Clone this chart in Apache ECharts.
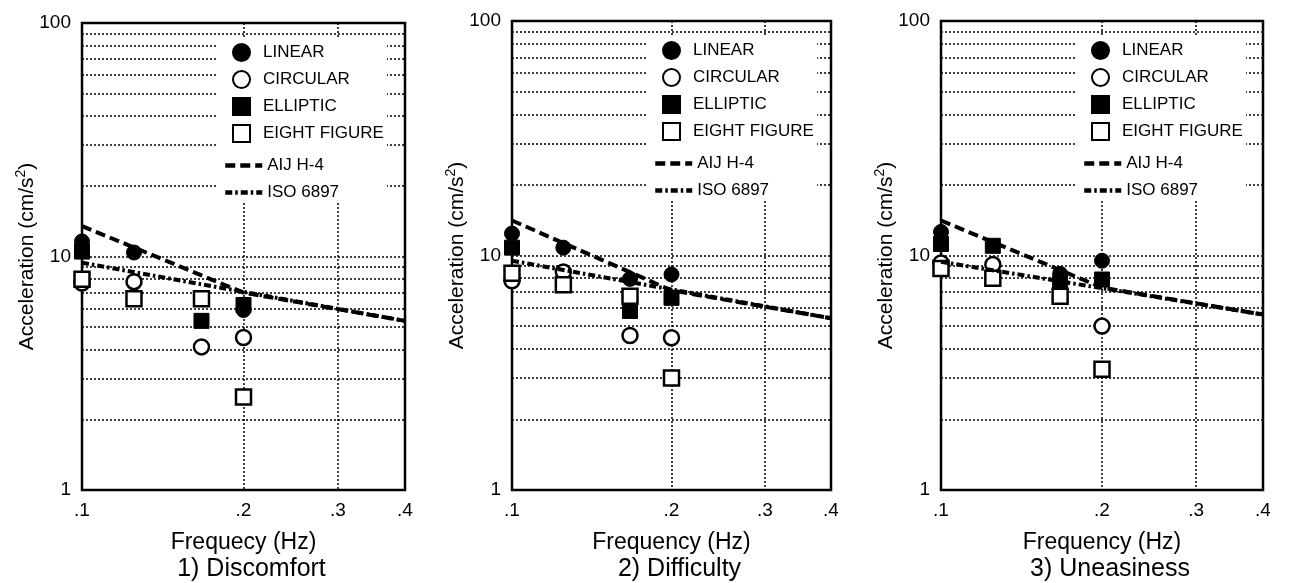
<!DOCTYPE html>
<html>
<head>
<meta charset="utf-8">
<script src="https://cdn.jsdelivr.net/npm/echarts@6/dist/echarts.min.js"></script>
<style>
  html, body { margin: 0; padding: 0; background: #fff; }
  #chart { width: 1289px; height: 583px; }
</style>
</head>
<body>
<div id="chart"></div>
<script>
// ---------------- data ----------------
const frequencies = [0.1, 0.125, 0.167, 0.2];           // Hz
const xTickValues = [0.1, 0.2, 0.3, 0.4];
const yLabelValues = [1, 10, 100];
const yGridValues = [1, 2, 3, 4, 5, 6, 7, 8, 9, 10, 20, 30, 40, 50, 60, 70, 80, 90, 100];

// 1) Discomfort
const discomfortLinear   = [11.6, 10.4, null, 5.9];
const discomfortCircular = [7.7, 7.8, 4.1, 4.5];
const discomfortElliptic = [10.5, null, 5.3, 6.2];
const discomfortEight    = [8.0, 6.6, 6.6, 2.5];
// 2) Difficulty
const difficultyLinear   = [12.4, 10.8, 7.95, 8.3];
const difficultyCircular = [7.8, 8.5, 4.56, 4.46];
const difficultyElliptic = [10.8, null, 5.8, 6.6];
const difficultyEight    = [8.4, 7.5, 6.7, 3.0];
// 3) Uneasiness
const uneasinessLinear   = [12.6, null, 8.35, 9.5];
const uneasinessCircular = [9.3, 9.15, null, 5.0];
const uneasinessElliptic = [11.2, 11.0, 7.6, 7.9];
const uneasinessEight    = [8.8, 8.0, 6.7, 3.27];

// guideline curves
const aijFreqs = [0.1, 0.2, 0.4];
const isoFreqs = [0.1, 0.4];
const discomfortAIJ = [13.5, 7.0, 5.3];
const discomfortISO = [9.4, 5.3];
const difficultyAIJ = [14.1, 7.1, 5.4];
const difficultyISO = [9.5, 5.4];
const uneasinessAIJ = [14.1, 7.3, 5.6];
const uneasinessISO = [9.4, 5.6];

// ---------------- layout ----------------
const FONT = '"Liberation Sans", Arial, Helvetica, sans-serif';
const panels = [
  { left: 82,  top: 23, width: 323, height: 467, title: '1) Discomfort', xName: 'Frequecy (Hz)',
    linear: discomfortLinear, circular: discomfortCircular, elliptic: discomfortElliptic, eight: discomfortEight,
    aij: discomfortAIJ, iso: discomfortISO },
  { left: 512, top: 21, width: 319, height: 469, title: '2) Difficulty', xName: 'Frequency (Hz)',
    linear: difficultyLinear, circular: difficultyCircular, elliptic: difficultyElliptic, eight: difficultyEight,
    aij: difficultyAIJ, iso: difficultyISO },
  { left: 941, top: 21, width: 322, height: 469, title: '3) Uneasiness', xName: 'Frequency (Hz)',
    linear: uneasinessLinear, circular: uneasinessCircular, elliptic: uneasinessElliptic, eight: uneasinessEight,
    aij: uneasinessAIJ, iso: uneasinessISO }
];

function pairs(xs, vals) {
  const out = [];
  xs.forEach((x, i) => { if (vals[i] != null) out.push([x, vals[i]]); });
  return out;
}

const markerStyles = {
  'LINEAR':       { symbol: 'circle', itemStyle: { color: '#000', borderColor: '#000', borderWidth: 1, opacity: 1 } },
  'CIRCULAR':     { symbol: 'circle', itemStyle: { color: '#fff', borderColor: '#000', borderWidth: 2.5, opacity: 1 } },
  'ELLIPTIC':     { symbol: 'rect',   itemStyle: { color: '#000', borderColor: '#000', borderWidth: 1, opacity: 1 } },
  'EIGHT FIGURE': { symbol: 'rect',   itemStyle: { color: '#fff', borderColor: '#000', borderWidth: 2.5, opacity: 1 } }
};
const aijLine = { color: '#000', width: 4, type: [10, 5], opacity: 1 };
const isoLine = { color: '#000', width: 4, type: [7, 3, 2.5, 3], opacity: 1 };

const grid = [], xAxis = [], yAxis = [], series = [], legend = [], title = [], graphicEls = [];

panels.forEach((p, gi) => {
  grid.push({ left: p.left, top: p.top, width: p.width, height: p.height, show: true,
              borderColor: '#000', borderWidth: 2.5, backgroundColor: 'transparent' });
  xAxis.push({
    type: 'log', gridIndex: gi, min: 0.1, max: 0.4,
    name: p.xName, nameLocation: 'middle', nameGap: 41, nameMoveOverlap: false,
    nameTextStyle: { fontFamily: FONT, fontSize: 23, color: '#000' },
    axisLine: { show: false },
    axisTick: { show: false, customValues: xTickValues },
    axisLabel: { customValues: xTickValues, margin: 11, fontFamily: FONT, fontSize: 19, color: '#000',
                 formatter: v => String(v).replace(/^0\./, '.') },
    splitLine: { show: true, lineStyle: { color: '#000', width: 1.5, type: [2, 2] } },
    minorSplitLine: { show: false }
  });
  yAxis.push({
    type: 'log', gridIndex: gi, min: 1, max: 100,
    name: 'Acceleration (cm/s{sup|2})', nameLocation: 'middle', nameGap: 42, nameMoveOverlap: false,
    nameTextStyle: { fontFamily: FONT, fontSize: 21, color: '#000', lineHeight: 26,
                     rich: { sup: { fontFamily: FONT, fontSize: 14, color: '#000', verticalAlign: 'top', lineHeight: 14 } } },
    axisLine: { show: false },
    axisTick: { show: false, customValues: yGridValues },
    axisLabel: { customValues: yLabelValues, margin: 11, fontFamily: FONT, fontSize: 19, color: '#000',
                 formatter: v => String(v) },
    splitLine: { show: true, lineStyle: { color: '#000', width: 1.5, type: [2, 2] } }
  });

  const markerSets = [['LINEAR', p.linear], ['CIRCULAR', p.circular], ['ELLIPTIC', p.elliptic], ['EIGHT FIGURE', p.eight]];
  markerSets.forEach(([name, vals]) => {
    const st = markerStyles[name];
    series.push({
      type: 'scatter', name, xAxisIndex: gi, yAxisIndex: gi,
      symbol: st.symbol, symbolSize: 15, itemStyle: st.itemStyle,
      data: pairs(frequencies, vals), silent: true
    });
  });
  series.push({ type: 'line', name: 'AIJ H-4', xAxisIndex: gi, yAxisIndex: gi, symbol: 'none',
                lineStyle: aijLine, itemStyle: { color: 'rgba(0,0,0,0)', borderWidth: 0 },
                data: pairs(aijFreqs, p.aij), silent: true });
  series.push({ type: 'line', name: 'ISO 6897', xAxisIndex: gi, yAxisIndex: gi, symbol: 'none',
                lineStyle: isoLine, itemStyle: { color: 'rgba(0,0,0,0)', borderWidth: 0 },
                data: pairs(isoFreqs, p.iso), silent: true });

  graphicEls.push({ type: 'rect', z: 3, silent: true,
                    shape: { x: p.left + 135, y: p.top + 15, width: 170, height: 163 },
                    style: { fill: '#fff' } });

  legend.push({
    orient: 'vertical', left: p.left + 145, top: p.top + 15, itemWidth: 17, itemHeight: 17, itemGap: 8,
    selectedMode: false, z: 5,
    textStyle: { fontFamily: FONT, fontSize: 17, color: '#000', padding: [0, 0, 0, 8] },
    data: [{ name: 'LINEAR', icon: 'circle' }, { name: 'CIRCULAR', icon: 'circle' },
           { name: 'ELLIPTIC', icon: 'rect' }, { name: 'EIGHT FIGURE', icon: 'rect' }]
  });
  legend.push({
    orient: 'vertical', left: p.left + 136, top: p.top + 129, itemWidth: 37, itemHeight: 17, itemGap: 10,
    selectedMode: false, z: 5,
    lineStyle: { width: 4.5 },
    textStyle: { fontFamily: FONT, fontSize: 17, color: '#000' },
    data: [{ name: 'AIJ H-4', itemStyle: { color: 'rgba(0,0,0,0)', borderWidth: 0 } },
           { name: 'ISO 6897', itemStyle: { color: 'rgba(0,0,0,0)', borderWidth: 0 } }]
  });

  title.push({ text: p.title, left: p.left + p.width / 2 + 3, top: 552, textAlign: 'center',
               textStyle: { fontFamily: FONT, fontSize: 25, fontWeight: 'normal', color: '#000' } });
});

const chart = echarts.init(document.getElementById('chart'), null, { renderer: 'canvas' });
chart.setOption({
  backgroundColor: '#fff',
  animation: false,
  title, grid, xAxis, yAxis, legend, series,
  graphic: { elements: graphicEls }
});
</script>
</body>
</html>
